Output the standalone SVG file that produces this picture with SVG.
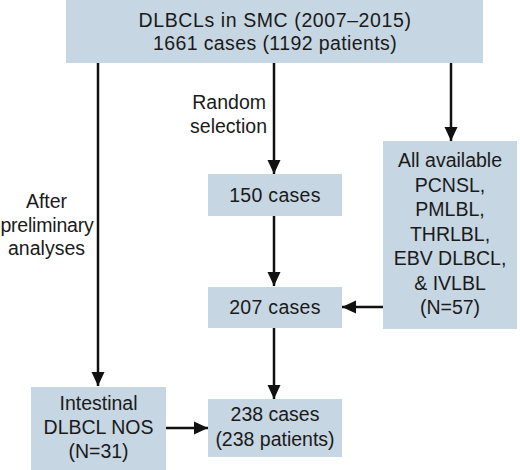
<svg xmlns="http://www.w3.org/2000/svg" width="520" height="470" viewBox="0 0 520 470">
<style>
.box{fill:#c6d6e2;}
.t{font-family:"Liberation Sans",Arial,sans-serif;font-size:19.5px;fill:#1a1a1a;text-anchor:middle;}
.l{font-family:"Liberation Sans",Arial,sans-serif;font-size:19.5px;fill:#1a1a1a;text-anchor:end;}
.c{stroke:#111;stroke-width:2.5;fill:none;marker-end:url(#ah);}
</style>
<defs>
<marker id="ah" markerUnits="userSpaceOnUse" markerWidth="14" markerHeight="14" viewBox="0 0 14 14" refX="14" refY="7" orient="auto">
<path d="M0,0.5 L14,7 L0,13.5 Z" fill="#111"/>
</marker>
</defs>
<rect width="520" height="470" fill="#fff"/>
<g id="top">
<rect class="box" x="66" y="0" width="417" height="63"/>
<text class="t" x="275" y="27" letter-spacing="0.6">DLBCLs in SMC (2007–2015)</text>
<text class="t" x="275" y="50" letter-spacing="0.4">1661 cases (1192 patients)</text>
</g>
<g id="n150">
<rect class="box" x="208" y="174" width="134" height="42"/>
<text class="t" x="275" y="202" letter-spacing="0.3">150 cases</text>
</g>
<g id="n207">
<rect class="box" x="208" y="287" width="134" height="41"/>
<text class="t" x="275" y="314" letter-spacing="0.3">207 cases</text>
</g>
<g id="special">
<rect class="box" x="383" y="141" width="134" height="188"/>
<text class="t" x="450" y="167">All available</text>
<text class="t" x="450" y="191.5">PCNSL,</text>
<text class="t" x="450" y="216">PMLBL,</text>
<text class="t" x="450" y="240.5">THRLBL,</text>
<text class="t" x="450" y="265">EBV DLBCL,</text>
<text class="t" x="450" y="289.5">&amp; IVLBL</text>
<text class="t" x="450" y="314">(N=57)</text>
</g>
<g id="intestinal">
<rect class="box" x="31" y="387" width="135" height="83"/>
<text class="t" x="98.5" y="410">Intestinal</text>
<text class="t" x="98.5" y="434">DLBCL NOS</text>
<text class="t" x="98.5" y="458">(N=31)</text>
</g>
<g id="n238">
<rect class="box" x="208" y="399" width="134" height="58"/>
<text class="t" x="275" y="421">238 cases</text>
<text class="t" x="275" y="446">(238 patients)</text>
</g>
<g id="labels">
<text class="l" x="266" y="109">Random</text>
<text class="l" x="267" y="133">selection</text>
<text class="t" x="46.5" y="208">After</text>
<text class="t" x="47" y="232" letter-spacing="-0.2">preliminary</text>
<text class="t" x="46.5" y="255">analyses</text>
</g>
<g id="connectors">
<line class="c" x1="98" y1="63" x2="98" y2="386"/>
<line class="c" x1="274" y1="63" x2="274" y2="174"/>
<line class="c" x1="451" y1="63" x2="451" y2="141"/>
<line class="c" x1="274" y1="216" x2="274" y2="286"/>
<line class="c" x1="383" y1="307" x2="342" y2="307"/>
<line class="c" x1="274" y1="328" x2="274" y2="399"/>
<line class="c" x1="166" y1="428" x2="208" y2="428"/>
</g>
</svg>
